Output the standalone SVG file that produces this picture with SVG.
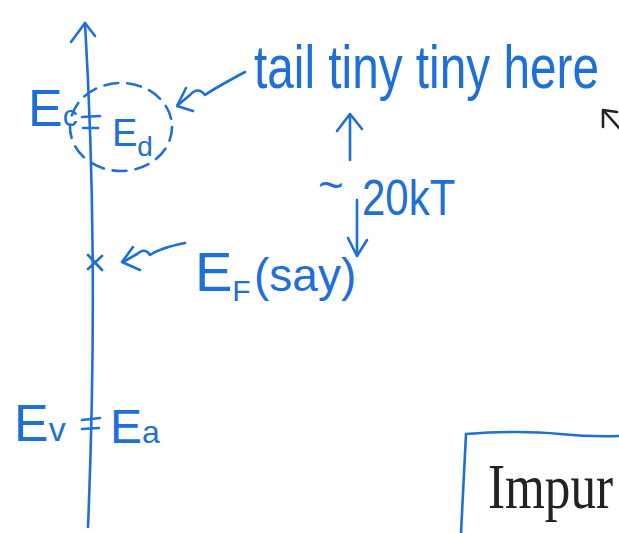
<svg xmlns="http://www.w3.org/2000/svg" width="619" height="533" viewBox="0 0 619 533">
<style>
.pen{fill:none;stroke:#1f6fd8;stroke-width:2.6;stroke-linecap:round;stroke-linejoin:round}
.ink{fill:none;stroke:#222;stroke-width:2.6;stroke-linecap:round;stroke-linejoin:round}
.t{fill:#1f6fd8;font-family:"Liberation Sans","DejaVu Sans",sans-serif;font-weight:normal}
.k{fill:#222;font-family:"Liberation Serif","DejaVu Serif",serif}
</style>
<rect width="619" height="533" fill="#fff"/>
<g id="connectors">
<path class="pen" d="M85,23 Q99,260 88,527"/>
<path class="pen" d="M71,42 L85,23 L95,36"/>
<path class="pen" d="M245,72 Q215,88 205,95 Q198,86 190,95 L178,105"/>
<path class="pen" d="M186,88 L177,106 L193,111"/>
<path class="pen" d="M185,243 Q160,248 150,255 Q145,247 137,254 L123,262"/>
<path class="pen" d="M133,247 L122,262 L140,270"/>
<path class="pen" d="M350,160 L350,115"/>
<path class="pen" d="M337,131 L350,114 L362,129"/>
<path class="pen" d="M357,200 L357,255"/>
<path class="pen" d="M348,238 L357,256 L367,240"/>
<path class="ink" d="M619,128 L604,111"/>
<path class="ink" d="M603,127 L603,110 L617,112"/>
</g>
<g id="axis-ticks">
<path class="pen" d="M82,117 L100,116 M83,128 L98,128"/>
<path class="pen" d="M82,420 L100,418 M82,429 L99,428"/>
<path class="pen" d="M88,255 L102,270 M102,256 L88,269"/>
</g>
<g id="donor-circle">
<ellipse cx="121" cy="127" rx="51" ry="44" class="pen" stroke-dasharray="14 9" stroke-width="2"/>
</g>
<g id="Ec"><text class="t" x="28" y="126" font-size="52">E<tspan font-size="30">c</tspan></text></g>
<g id="Ed"><text class="t" x="112" y="146" font-size="38">E<tspan font-size="28" dy="10">d</tspan></text></g>
<g id="tail-label"><text class="t" transform="translate(254,88) scale(0.77,1)" x="0" y="0" font-size="62">tail tiny tiny here</text></g>
<g id="kT-label"><text class="t" x="318" y="200" font-size="44">~</text><text class="t" transform="translate(362,215) scale(0.84,1)" x="0" y="0" font-size="50">20kT</text></g>
<g id="Ef"><text class="t" x="195" y="291" font-size="56">E<tspan font-size="30" dy="10">F</tspan></text><text class="t" x="254" y="291" font-size="46">(say)</text></g>
<g id="Ev"><text class="t" x="14" y="441" font-size="52">E<tspan font-size="34">v</tspan></text></g>
<g id="Ea"><text class="t" x="110" y="443" font-size="48">E<tspan font-size="32">a</tspan></text></g>
<g id="box">
<path class="pen" d="M466,434 Q520,430 560,434 Q590,437 619,436"/>
<path class="pen" d="M466,434 L461,533"/>
<text class="k" transform="translate(488,508) scale(0.8,1)" x="0" y="0" font-size="64">Impur</text>
</g>
</svg>
